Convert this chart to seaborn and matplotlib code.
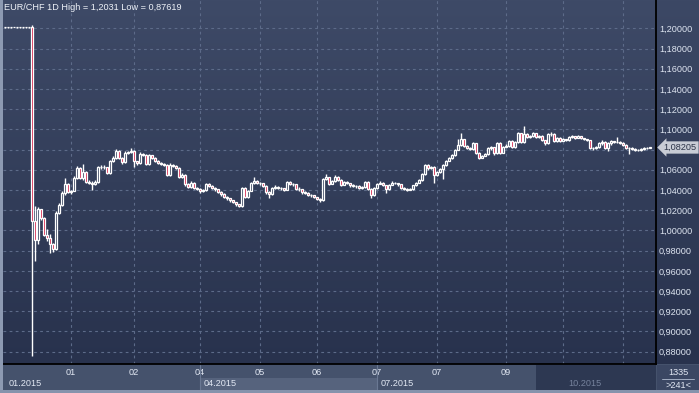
import numpy as np
import pandas as pd
import matplotlib
matplotlib.use("Agg")
import matplotlib.pyplot as plt
import matplotlib.transforms as mtransforms
from matplotlib.patches import Rectangle
from matplotlib.lines import Line2D
from matplotlib.ticker import FuncFormatter
import seaborn as sns

# EUR/CHF daily candles (open = previous close)
first_open = 1.2010
close = [
    1.2010, 1.2009, 1.2010, 1.2011, 1.2010, 1.2010, 1.2009, 1.2010, 1.2010, 1.0093,
    0.9905, 1.0209, 1.0120, 0.9955, 0.9925, 0.9866, 0.9820, 1.0172, 1.0252, 1.0370,
    1.0460, 1.0380, 1.0385, 1.0520, 1.0620, 1.0520, 1.0580, 1.0480, 1.0470, 1.0460,
    1.0480, 1.0625, 1.0630, 1.0625, 1.0570, 1.0690, 1.0720, 1.0790, 1.0720, 1.0680,
    1.0770, 1.0775, 1.0790, 1.0690, 1.0665, 1.0760, 1.0750, 1.0660, 1.0745, 1.0720,
    1.0690, 1.0670, 1.0660, 1.0650, 1.0550, 1.0650, 1.0640, 1.0620, 1.0530, 1.0550,
    1.0460, 1.0430, 1.0470, 1.0420, 1.0410, 1.0390, 1.0395, 1.0460, 1.0440, 1.0420,
    1.0405, 1.0380, 1.0360, 1.0330, 1.0320, 1.0300, 1.0280, 1.0260, 1.0240, 1.0420,
    1.0335, 1.0390, 1.0470, 1.0490, 1.0470, 1.0465, 1.0440, 1.0380, 1.0360, 1.0420,
    1.0430, 1.0420, 1.0415, 1.0400, 1.0480, 1.0460, 1.0455, 1.0410, 1.0405, 1.0380,
    1.0370, 1.0355, 1.0350, 1.0330, 1.0310, 1.0300, 1.0510, 1.0525, 1.0460, 1.0490,
    1.0530, 1.0500, 1.0450, 1.0480, 1.0465, 1.0445, 1.0440, 1.0435, 1.0420, 1.0425,
    1.0480, 1.0410, 1.0350, 1.0420, 1.0460, 1.0470, 1.0445, 1.0410, 1.0450, 1.0470,
    1.0465, 1.0455, 1.0420, 1.0410, 1.0400, 1.0410, 1.0445, 1.0470, 1.0500, 1.0560,
    1.0650, 1.0615, 1.0630, 1.0550, 1.0580, 1.0610, 1.0650, 1.0690, 1.0720, 1.0745,
    1.0800, 1.0850, 1.0900, 1.0840, 1.0820, 1.0810, 1.0860, 1.0765, 1.0720, 1.0740,
    1.0760, 1.0815, 1.0825, 1.0765, 1.0865, 1.0770, 1.0830, 1.0840, 1.0885, 1.0825,
    1.0870, 1.0960, 1.0870, 1.0955, 1.0925, 1.0930, 1.0960, 1.0920, 1.0935, 1.0890,
    1.0860, 1.0950, 1.0955, 1.0880, 1.0915, 1.0885, 1.0900, 1.0890, 1.0920, 1.0930,
    1.0915, 1.0930, 1.0915, 1.0900, 1.0890, 1.0815, 1.0815, 1.0825, 1.0860, 1.0875,
    1.0815, 1.0860, 1.0880, 1.0870, 1.0875, 1.0865, 1.0850, 1.0815, 1.0815, 1.0810,
    1.0800, 1.0795, 1.0805, 1.0815, 1.0820, 1.08205,
]
high = [
    1.2012, 1.2011, 1.2013, 1.2013, 1.2012, 1.2011, 1.2011, 1.2012, 1.2013, 1.2031,
    1.0240, 1.0230, 1.0215, 1.0130, 1.0010, 0.9960, 0.9880, 1.0190, 1.0270, 1.0390,
    1.0520, 1.0470, 1.0400, 1.0540, 1.0640, 1.0630, 1.0660, 1.0590, 1.0495, 1.0490,
    1.0500, 1.0640, 1.0650, 1.0645, 1.0630, 1.0700, 1.0735, 1.0810, 1.0800, 1.0725,
    1.0785, 1.0790, 1.0815, 1.0795, 1.0690, 1.0775, 1.0770, 1.0760, 1.0760, 1.0750,
    1.0725, 1.0700, 1.0680, 1.0665, 1.0660, 1.0665, 1.0660, 1.0650, 1.0630, 1.0570,
    1.0560, 1.0470, 1.0490, 1.0480, 1.0430, 1.0415, 1.0410, 1.0470, 1.0465, 1.0450,
    1.0430, 1.0410, 1.0385, 1.0370, 1.0340, 1.0325, 1.0305, 1.0285, 1.0265, 1.0430,
    1.0425, 1.0400, 1.0480, 1.0530, 1.0495, 1.0480, 1.0470, 1.0445, 1.0390, 1.0430,
    1.0445, 1.0440, 1.0430, 1.0420, 1.0490, 1.0485, 1.0470, 1.0460, 1.0425, 1.0410,
    1.0390, 1.0380, 1.0365, 1.0355, 1.0335, 1.0320, 1.0520, 1.0560, 1.0530, 1.0500,
    1.0545, 1.0535, 1.0505, 1.0490, 1.0485, 1.0470, 1.0455, 1.0450, 1.0445, 1.0440,
    1.0490, 1.0485, 1.0415, 1.0430, 1.0470, 1.0490, 1.0475, 1.0450, 1.0460, 1.0485,
    1.0480, 1.0470, 1.0460, 1.0430, 1.0420, 1.0420, 1.0450, 1.0480, 1.0510, 1.0570,
    1.0660, 1.0660, 1.0640, 1.0635, 1.0590, 1.0620, 1.0660, 1.0700, 1.0730, 1.0760,
    1.0810, 1.0900, 1.0960, 1.0905, 1.0850, 1.0830, 1.0870, 1.0865, 1.0780, 1.0750,
    1.0770, 1.0825, 1.0840, 1.0830, 1.0875, 1.0870, 1.0840, 1.0855, 1.0895, 1.0890,
    1.0880, 1.0975, 1.0965, 1.1030, 1.0965, 1.0945, 1.0975, 1.0965, 1.0945, 1.0940,
    1.0895, 1.0960, 1.0975, 1.0960, 1.0925, 1.0920, 1.0910, 1.0905, 1.0930, 1.0945,
    1.0935, 1.0940, 1.0935, 1.0915, 1.0905, 1.0895, 1.0830, 1.0840, 1.0870, 1.0890,
    1.0880, 1.0870, 1.0890, 1.0885, 1.0920, 1.0880, 1.0870, 1.0855, 1.0825, 1.0825,
    1.0815, 1.0810, 1.0815, 1.0825, 1.0830, 1.0825,
]
low = [
    1.2005, 1.2006, 1.2007, 1.2008, 1.2007, 1.2006, 1.2006, 1.2007, 1.2007, 0.87619,
    0.9700, 0.9870, 1.0100, 0.9940, 0.9900, 0.9780, 0.9790, 0.9810, 1.0160, 1.0240,
    1.0355, 1.0370, 1.0360, 1.0400, 1.0510, 1.0510, 1.0500, 1.0470, 1.0455, 1.0400,
    1.0450, 1.0470, 1.0610, 1.0610, 1.0560, 1.0560, 1.0680, 1.0710, 1.0710, 1.0660,
    1.0670, 1.0755, 1.0765, 1.0630, 1.0650, 1.0660, 1.0735, 1.0650, 1.0650, 1.0710,
    1.0680, 1.0655, 1.0645, 1.0635, 1.0540, 1.0540, 1.0625, 1.0605, 1.0515, 1.0520,
    1.0440, 1.0415, 1.0420, 1.0405, 1.0395, 1.0375, 1.0380, 1.0385, 1.0430, 1.0405,
    1.0390, 1.0370, 1.0345, 1.0320, 1.0305, 1.0285, 1.0270, 1.0245, 1.0230, 1.0235,
    1.0320, 1.0325, 1.0385, 1.0460, 1.0460, 1.0450, 1.0430, 1.0365, 1.0320, 1.0355,
    1.0410, 1.0405, 1.0400, 1.0385, 1.0395, 1.0445, 1.0440, 1.0400, 1.0390, 1.0365,
    1.0360, 1.0340, 1.0335, 1.0320, 1.0300, 1.0285, 1.0295, 1.0500, 1.0450, 1.0455,
    1.0480, 1.0490, 1.0440, 1.0445, 1.0455, 1.0430, 1.0430, 1.0420, 1.0410, 1.0410,
    1.0415, 1.0400, 1.0320, 1.0340, 1.0410, 1.0455, 1.0435, 1.0370, 1.0400, 1.0445,
    1.0455, 1.0440, 1.0410, 1.0395, 1.0390, 1.0395, 1.0400, 1.0440, 1.0465, 1.0490,
    1.0550, 1.0600, 1.0605, 1.0470, 1.0540, 1.0570, 1.0510, 1.0640, 1.0685, 1.0710,
    1.0735, 1.0795, 1.0840, 1.0830, 1.0805, 1.0795, 1.0800, 1.0755, 1.0705, 1.0715,
    1.0735, 1.0750, 1.0800, 1.0750, 1.0755, 1.0760, 1.0765, 1.0825, 1.0830, 1.0815,
    1.0820, 1.0860, 1.0860, 1.0860, 1.0915, 1.0910, 1.0920, 1.0910, 1.0915, 1.0880,
    1.0845, 1.0855, 1.0935, 1.0870, 1.0875, 1.0875, 1.0880, 1.0880, 1.0885, 1.0915,
    1.0905, 1.0910, 1.0905, 1.0890, 1.0880, 1.0805, 1.0800, 1.0805, 1.0815, 1.0850,
    1.0805, 1.0790, 1.0850, 1.0860, 1.0860, 1.0855, 1.0840, 1.0805, 1.0760, 1.0795,
    1.0790, 1.0785, 1.0790, 1.0800, 1.0810, 1.0818,
]

month_idx = [22, 43, 65, 85, 104, 124, 144, 167, 186, 206]
month_labels = ["01", "02", "04", "05", "06", "07", "07", "09", "10", "10"]
period_idx = [1.3, 66.3, 125.3, 187.7]
period_labels = ["01.2015", "04.2015", "07.2015", "10.2015"]
y_ticks = np.arange(0.88, 1.2001, 0.02)

df = pd.DataFrame({"close": close, "high": high, "low": low})
df["open"] = df["close"].shift(1).fillna(first_open)
up = df["close"] >= df["open"]

sns.set_style("dark")
plt.rcParams["font.family"] = ["Liberation Sans", "DejaVu Sans"]

W, H = 699, 393
fig = plt.figure(figsize=(W / 100, H / 100), dpi=100, facecolor="#45526c")

def fx(px):
    return px / W

def fy(py):
    return 1 - py / H

# right panel background
side = fig.add_axes([fx(656), fy(364), fx(43), 364 / H], zorder=0)
grad = np.linspace(0, 1, 256).reshape(-1, 1)
side.imshow(grad, aspect="auto", cmap=matplotlib.colors.LinearSegmentedColormap.from_list(
    "bg", ["#3c4865", "#28324d"]), extent=[0, 1, 0, 1], origin="upper")
side.axis("off")

ax = fig.add_axes([fx(3), fy(364), fx(653), 364 / H], zorder=1)
ax.patch.set_alpha(0)
ax.imshow(grad, aspect="auto", cmap=matplotlib.colors.LinearSegmentedColormap.from_list(
    "bg", ["#3e4a67", "#28324d"]), extent=[0, 1, 0, 1], origin="upper",
    transform=ax.transAxes, zorder=0)

body_bg = "#34405c"
red = "#d4163f"
ax.vlines(df.index, df["low"], df["high"], color="white", lw=1, zorder=3)
ax.bar(df.index[up], (df["close"] - df["open"])[up], bottom=df["open"][up], width=0.7,
       facecolor=body_bg, edgecolor="white", lw=0.9, zorder=4)
ax.bar(df.index[~up], (df["close"] - df["open"])[~up], bottom=df["open"][~up], width=0.7,
       facecolor=red, edgecolor="white", lw=0.9, zorder=4)

ax.set_xlim(-0.67, 217)
ax.set_ylim(0.8678, 1.2280)

last = df["close"].iloc[-1]
ax.set_yticks(y_ticks)
ax.yaxis.tick_right()
# the last-price box covers the tick label next to it
ax.yaxis.set_major_formatter(FuncFormatter(
    lambda v, p: "" if abs(v - last) < 0.006 else f"{v:.5f}".replace(".", ",")))
ax.tick_params(axis="y", length=0, pad=2.2, labelsize=6.6, labelcolor="#dde4f0")
ax.set_xticks(month_idx)
ax.set_xticklabels(month_labels)
ax.tick_params(axis="x", length=0, pad=3.2, labelsize=6.6, labelcolor="#e2e8f3")
for lab, i in zip(ax.get_xticklabels(), month_idx):
    if i > 177:
        lab.set_color("#75829c")
ax.grid(True, color="#5d6b89", lw=0.8, ls=(0, (2.5, 3)))
for s in ["top", "left"]:
    ax.spines[s].set_visible(False)
for s in ["right", "bottom"]:
    ax.spines[s].set_color("black")
    ax.spines[s].set_linewidth(1.3)

ax.text(0.002, 0.992, "EUR/CHF 1D High = {} Low = {}".format(
    f"{max(high):.4f}".replace(".", ","), f"{min(low):.5f}".replace(".", ",")),
    transform=ax.transAxes, ha="left", va="top", fontsize=6.6, color="#eef2f8", zorder=6)

# last price marker
ax.text(1.012, last, f"{last:.5f}".replace(".", ","), transform=mtransforms.blended_transform_factory(
    ax.transAxes, ax.transData), ha="left", va="center", fontsize=6.6, color="#2c3448",
    bbox=dict(boxstyle="larrow,pad=0.18", fc="#c8ccd5", ec="none"), zorder=7, clip_on=False)

# navigator band below the chart
bt = mtransforms.blended_transform_factory(ax.transData, fig.transFigure)
fig.add_artist(Rectangle((fx(0), fy(393)), fx(3), 393 / H, transform=fig.transFigure,
                         fc="#8d9ab2", ec="none", zorder=5))
fig.add_artist(Rectangle((0, 0), 1, 3 / H, transform=fig.transFigure,
                         fc="#8593ac", ec="none", zorder=5))
fig.add_artist(Rectangle((period_idx[1] - 1.3, fy(390)), period_idx[2] - period_idx[1], 12 / H,
                         transform=bt, fc="#56637d", ec="none", zorder=2))
fig.add_artist(Rectangle((177, fy(390)), 217 - 177, 25.5 / H, transform=bt,
                         fc="#2d3852", ec="none", zorder=2))
for xi in [period_idx[1] - 1.3, period_idx[2] - 1.3]:
    fig.add_artist(Line2D([xi, xi], [fy(390), fy(365)], transform=bt, color="#6a7893", lw=0.8, zorder=3))
for xi, lab in zip(period_idx, period_labels):
    col = "#75829c" if xi > 177 else "#e2e8f3"
    fig.text(xi, fy(383.5), lab, transform=bt, ha="left", va="center", fontsize=6.6, color=col, zorder=6)

# bar count box
fig.add_artist(Rectangle((fx(657), fy(390)), fx(42), 25 / H, transform=fig.transFigure,
                         fc="#3b4763", ec="none", zorder=2))
fig.text(fx(678), fy(372.5), "1335", ha="center", va="center", fontsize=6.6, color="#e2e8f3")
fig.add_artist(Line2D([fx(662), fx(694)], [fy(379), fy(379)], transform=fig.transFigure,
                      color="#a3aec2", lw=0.7))
fig.text(fx(678), fy(385.5), ">241<", ha="center", va="center", fontsize=6.6, color="#e2e8f3")

fig.savefig("out.png", dpi=100, facecolor=fig.get_facecolor())
